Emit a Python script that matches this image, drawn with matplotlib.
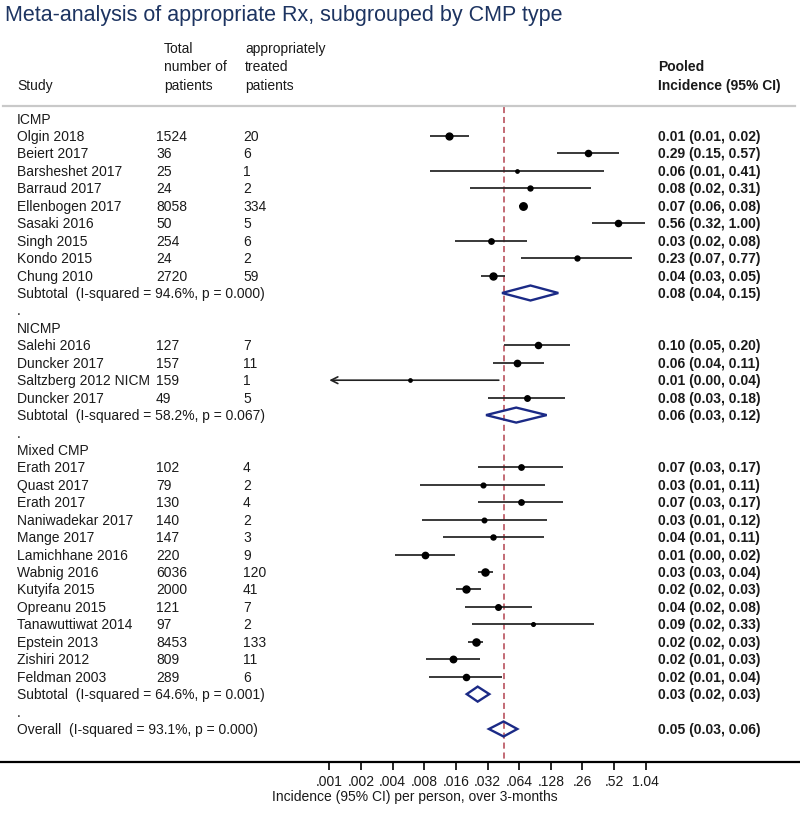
import numpy as np
import matplotlib
matplotlib.use('Agg')
import matplotlib.pyplot as plt
from matplotlib.transforms import blended_transform_factory
from matplotlib.ticker import NullLocator

# datos
grupos = ['ICMP', 'NICMP', 'Mixed CMP']
n_por_grupo = [9, 4, 13]

estudios = ['Olgin 2018', 'Beiert 2017', 'Barsheshet 2017', 'Barraud 2017', 'Ellenbogen 2017',
            'Sasaki 2016', 'Singh 2015', 'Kondo 2015', 'Chung 2010',
            'Salehi 2016', 'Duncker 2017', 'Saltzberg 2012 NICM', 'Duncker 2017',
            'Erath 2017', 'Quast 2017', 'Erath 2017', 'Naniwadekar 2017', 'Mange 2017',
            'Lamichhane 2016', 'Wabnig 2016', 'Kutyifa 2015', 'Opreanu 2015',
            'Tanawuttiwat 2014', 'Epstein 2013', 'Zishiri 2012', 'Feldman 2003']
total = [1524, 36, 25, 24, 8058, 50, 254, 24, 2720,
         127, 157, 159, 49,
         102, 79, 130, 140, 147, 220, 6036, 2000, 121, 97, 8453, 809, 289]
tratados = [20, 6, 1, 2, 334, 5, 6, 2, 59,
            7, 11, 1, 5,
            4, 2, 4, 2, 3, 9, 120, 41, 7, 2, 133, 11, 6]
est = [0.0138, 0.287, 0.061, 0.082, 0.070, 0.556, 0.0346, 0.226, 0.036,
       0.097, 0.0615, 0.0059, 0.0755,
       0.066, 0.029, 0.066, 0.0296, 0.036, 0.0081, 0.030, 0.020, 0.0405, 0.087, 0.0247, 0.0151, 0.0199]
ci_lo = [0.0091, 0.147, 0.0091, 0.0218, 0.064, 0.316, 0.0158, 0.067, 0.028,
         0.046, 0.036, 0.0004, 0.0326,
         0.026, 0.0073, 0.026, 0.0076, 0.012, 0.0042, 0.026, 0.016, 0.0197, 0.023, 0.0207, 0.0084, 0.0089]
ci_hi = [0.0213, 0.566, 0.407, 0.309, 0.076, 0.998, 0.0755, 0.766, 0.047,
         0.196, 0.110, 0.041, 0.176,
         0.166, 0.113, 0.168, 0.118, 0.110, 0.0156, 0.036, 0.0276, 0.084, 0.327, 0.029, 0.027, 0.0437]
peso = [4.2, 3.4, 1.0, 2.2, 5.0, 3.4, 2.6, 2.2, 4.4,
        3.4, 3.6, 1.0, 2.7,
        2.6, 2.0, 2.6, 1.9, 2.3, 3.6, 4.6, 4.4, 2.8, 1.2, 4.6, 3.8, 3.4]

sub_est = [0.082, 0.060, 0.0258]
sub_lo = [0.044, 0.031, 0.0203]
sub_hi = [0.151, 0.117, 0.0333]
sub_i2 = ['94.6', '58.2', '64.6']
sub_p = ['0.000', '0.067', '0.001']

total_est, total_lo, total_hi = 0.0455, 0.033, 0.0615
total_i2, total_p = '93.1', '0.000'

ticks = [0.001, 0.002, 0.004, 0.008, 0.016, 0.032, 0.064, 0.128, 0.256, 0.512, 1.024]
tick_labels = ['.001', '.002', '.004', '.008', '.016', '.032', '.064', '.128', '.26', '.52', '1.04']

# layout (en pixeles de la figura 800x820)
W, H = 800, 820
ROW0, STEP = 119.6, 17.44
X001, PXD = 329.3, 31.64

plt.rcParams['font.family'] = ['Liberation Sans', 'DejaVu Sans']
TXT = '#1a1a1a'
FS = 10

fig = plt.figure(figsize=(8, 8.2), dpi=100)
ax = fig.add_axes([0, 0, 1, 1])
ax.set_xscale('log', base=2)
ax.set_xlim(0.001 * 2 ** (-X001 / PXD), 0.001 * 2 ** ((W - X001) / PXD))
ax.set_ylim((H - ROW0) / STEP, -ROW0 / STEP)


def fila(ypix):
    return (ypix - ROW0) / STEP


tr = blended_transform_factory(ax.transAxes, ax.transData)


def texto(xpix, y, s, **kw):
    ax.text(xpix / W, y, s, transform=tr, fontsize=kw.pop('fontsize', FS),
            color=kw.pop('color', TXT), va=kw.pop('va', 'center'), ha=kw.pop('ha', 'left'), **kw)


def fmt(e, l, h):
    return f'{e:.2f} ({l:.2f}, {h:.2f})'


def diamante(e, l, h, y, alto=0.43):
    ax.fill([l, e, h, e, l], [y, y - alto, y, y + alto, y], fill=False,
            edgecolor='#1b2a86', lw=1.7, zorder=4)


# titulo y cabecera
fig.text(5 / W, 1 - 15 / H, 'Meta-analysis of appropriate Rx, subgrouped by CMP type',
         fontsize=15.5, color='#1d3461', va='center', ha='left')
texto(17, fila(86), 'Study')
for i, s in enumerate(['Total', 'number of', 'patients']):
    texto(164, fila(49 + 18.3 * i), s)
for i, s in enumerate(['appropriately', 'treated', 'patients']):
    texto(245, fila(49 + 18.3 * i), s)
texto(658, fila(67.3), 'Pooled', fontweight='bold')
texto(658, fila(85.6), 'Incidence (95% CI)', fontweight='bold')
ax.plot([3 / W, 795 / W], [fila(107)] * 2, transform=tr, color='#c9c9c9', lw=1.6)

# filas
fila_i = 0
k = 0
for g, nombre in enumerate(grupos):
    texto(17, fila_i, nombre)
    fila_i += 1
    for j in range(n_por_grupo[g]):
        y = fila_i
        texto(17, y, estudios[k])
        texto(156, y, str(total[k]))
        texto(243, y, str(tratados[k]))
        texto(658, y, fmt(est[k], ci_lo[k], ci_hi[k]), fontweight='bold')
        if ci_lo[k] < ticks[0]:
            ax.annotate('', xy=(ticks[0], y), xytext=(ci_hi[k], y),
                        arrowprops=dict(arrowstyle='->', color='#222222', lw=1.2,
                                        mutation_scale=12, shrinkA=0, shrinkB=0), zorder=3)
        else:
            ax.hlines(y, ci_lo[k], ci_hi[k], color='#2a2a2a', lw=1.3, zorder=3)
        ax.plot(est[k], y, 'o', color='black', ms=2.4 * np.sqrt(peso[k]), zorder=5)
        fila_i += 1
        k += 1
    texto(17, fila_i, f'Subtotal  (I-squared = {sub_i2[g]}%, p = {sub_p[g]})')
    texto(658, fila_i, fmt(sub_est[g], sub_lo[g], sub_hi[g]), fontweight='bold')
    diamante(sub_est[g], sub_lo[g], sub_hi[g], fila_i)
    fila_i += 1
    texto(17, fila_i, '.')
    fila_i += 1

texto(17, fila_i, f'Overall  (I-squared = {total_i2}%, p = {total_p})')
texto(658, fila_i, fmt(total_est, total_lo, total_hi), fontweight='bold')
diamante(total_est, total_lo, total_hi, fila_i)

# linea de referencia
ax.vlines(total_est, fila(108), fila(763), color='#b3434f', lw=1.1,
          linestyles=(0, (4, 2.5)), zorder=1)

# eje x
for lado in ['top', 'left', 'right']:
    ax.spines[lado].set_visible(False)
ax.spines['bottom'].set_position(('data', fila(763)))
ax.spines['bottom'].set_linewidth(1.6)
ax.set_xticks(ticks)
ax.set_xticklabels(tick_labels)
ax.xaxis.set_minor_locator(NullLocator())
ax.tick_params(axis='x', direction='out', length=6, width=1.2, pad=2.5,
               labelsize=FS, labelcolor=TXT)
ax.set_yticks([])
texto(415, fila(797), 'Incidence (95% CI) per person, over 3-months', ha='center')

fig.savefig('out.png', dpi=100)
